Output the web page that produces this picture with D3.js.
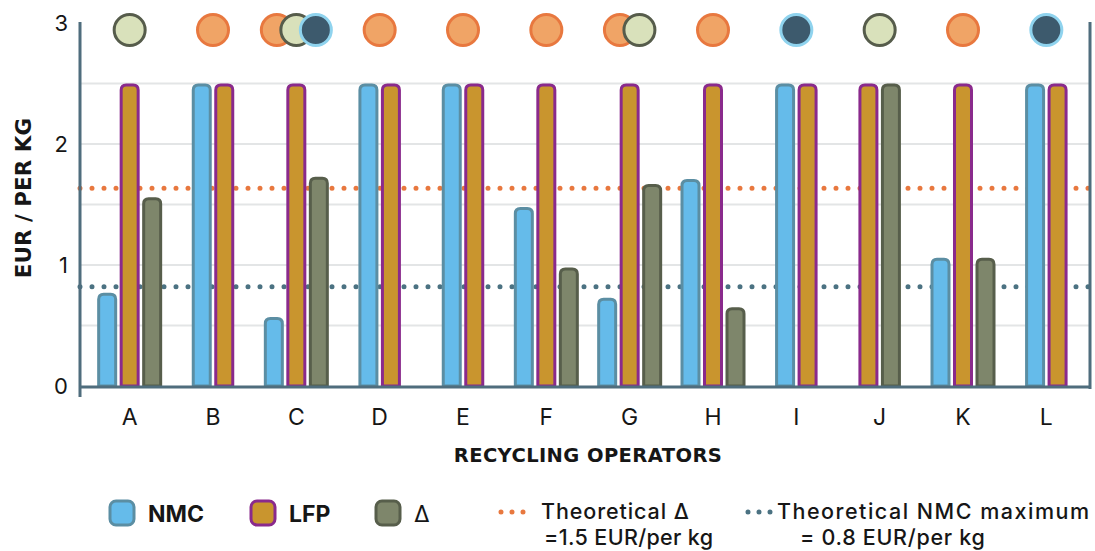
<!DOCTYPE html>
<html>
<head>
<meta charset="utf-8">
<script src="https://cdn.jsdelivr.net/npm/d3@7"></script>
<style>
  html, body { margin: 0; padding: 0; background: #fff; }
  svg { display: block; font-family: Inter, "Noto Sans", sans-serif; }
</style>
</head>
<body>
<svg id="chart" width="1095" height="551"></svg>
<script>
// ---------- data ----------
const categories = ["A","B","C","D","E","F","G","H","I","J","K","L"];
const nmcValues   = [0.77, 2.5, 0.57, 2.5, 2.5, 1.48, 0.73, 1.71, 2.5, 0,   1.06, 2.5];
const lfpValues   = [2.5,  2.5, 2.5,  2.5, 2.5, 2.5,  2.5,  2.5,  2.5, 2.5, 2.5,  2.5];
const deltaValues = [1.56, 0,   1.73, 0,   0,   0.98, 1.67, 0.65, 0,   2.5, 1.06, 0];
// markers shown above each operator (order = drawing order)
const markers = [
  ["green"], ["orange"], ["orange","green","dark"], ["orange"], ["orange"], ["orange"],
  ["orange","green"], ["orange"], ["dark"], ["green"], ["orange"], ["dark"]
];
const yTicks = [0, 1, 2, 3];
const gridValues = [0.5, 1, 1.5, 2, 2.5];
const theoreticalDelta = 1.635;   // drawn position of orange dotted line
const theoreticalNmcMax = 0.82;   // drawn position of blue dotted line
const seriesKeys = ["NMC","LFP","Δ"];
const seriesValues = [nmcValues, lfpValues, deltaValues];

// ---------- styles ----------
const seriesStyle = {
  "NMC": {fill: "#65bbea", stroke: "#5b8ea3"},
  "LFP": {fill: "#c9952e", stroke: "#8a2a8c"},
  "Δ":   {fill: "#7e866b", stroke: "#575e4b"}
};
const markerStyle = {
  orange: {fill: "#f0a466", stroke: "#e8783f"},
  green:  {fill: "#d9e1bb", stroke: "#565c4b"},
  dark:   {fill: "#3d5a6d", stroke: "#8fd3ee"}
};
const axisColor = "#4f6d7d";
const textColor = "#161616";
const boldFont = "'DejaVu Sans', sans-serif";

const svg = d3.select("#chart");

// ---------- scales ----------
const x = d3.scaleBand().domain(categories).range([88, 1088]).padding(0);
const y = d3.scaleLinear().domain([0, 3]).range([386, 23]);
const plotLeft = 80, plotRight = 1090;

// gridlines
svg.append("g").selectAll("line").data(gridValues).join("line")
  .attr("x1", plotLeft).attr("x2", plotRight)
  .attr("y1", d => y(d)).attr("y2", d => y(d))
  .attr("stroke", "#e3e5e6").attr("stroke-width", 2);

// theoretical dotted lines
const refLines = [
  {v: theoreticalDelta, color: "#e8783f"},
  {v: theoreticalNmcMax, color: "#4b7282"}
];
svg.append("g").selectAll("line").data(refLines).join("line")
  .attr("x1", plotLeft).attr("x2", plotRight)
  .attr("y1", d => y(d.v)).attr("y2", d => y(d.v))
  .attr("stroke", d => d.color).attr("stroke-width", 5)
  .attr("stroke-linecap", "round").attr("stroke-dasharray", "0 12");

// ---------- bars ----------
const barStep = 22.5, barW = 17, sw = 3, rad = 5;
function topRoundedPath(x0, y0, w, h, r) {
  r = Math.min(r, h, w / 2);
  return `M${x0},${y0 + h} L${x0},${y0 + r} Q${x0},${y0} ${x0 + r},${y0} L${x0 + w - r},${y0} Q${x0 + w},${y0} ${x0 + w},${y0 + r} L${x0 + w},${y0 + h} Z`;
}
const groups = svg.append("g").selectAll("g").data(categories).join("g")
  .attr("transform", d => `translate(${x(d) + x.bandwidth() / 2},0)`);
groups.each(function(cat, i) {
  const present = seriesKeys.map((k, j) => ({key: k, value: seriesValues[j][i]})).filter(d => d.value > 0);
  const inner = d3.scaleBand().domain(present.map(d => d.key))
    .range([-present.length * barStep / 2, present.length * barStep / 2]);
  d3.select(this).selectAll("path").data(present).join("path")
    .attr("d", d => {
      const cx = inner(d.key) + inner.bandwidth() / 2;
      const top = y(d.value) + sw / 2;
      return topRoundedPath(cx - barW / 2, top, barW, y(0) - top, rad);
    })
    .attr("fill", d => seriesStyle[d.key].fill)
    .attr("stroke", d => seriesStyle[d.key].stroke)
    .attr("stroke-width", sw);
});

// ---------- top markers ----------
const markerStep = 19.5, markerR = 15.5;
const mg = svg.append("g").selectAll("g").data(categories).join("g")
  .attr("transform", d => `translate(${x(d) + x.bandwidth() / 2},30)`);
mg.each(function(cat, i) {
  const list = markers[i];
  d3.select(this).selectAll("circle").data(list).join("circle")
    .attr("cx", (d, k) => (k - (list.length - 1) / 2) * markerStep)
    .attr("cy", 0).attr("r", markerR)
    .attr("fill", d => markerStyle[d].fill)
    .attr("stroke", d => markerStyle[d].stroke)
    .attr("stroke-width", 3);
});

// ---------- axes ----------
svg.append("line").attr("x1", plotLeft).attr("x2", plotLeft).attr("y1", 22).attr("y2", 397)
  .attr("stroke", axisColor).attr("stroke-width", 3);
svg.append("line").attr("x1", plotRight).attr("x2", plotRight).attr("y1", 22).attr("y2", 389)
  .attr("stroke", axisColor).attr("stroke-width", 3);
svg.append("line").attr("x1", plotLeft).attr("x2", plotRight).attr("y1", y(0) + 1).attr("y2", y(0) + 1)
  .attr("stroke", axisColor).attr("stroke-width", 3);

const yAxis = svg.append("g").attr("transform", `translate(${plotLeft},0)`)
  .call(d3.axisLeft(y).tickValues(yTicks).tickFormat(d3.format("d")).tickSize(0).tickPadding(12));
yAxis.select(".domain").remove();
yAxis.selectAll("text").attr("font-size", 22).attr("fill", textColor)
  .attr("font-family", "Inter, sans-serif");

const xAxis = svg.append("g").attr("transform", `translate(0,${y(0)})`)
  .call(d3.axisBottom(x).tickSize(0).tickPadding(23));
xAxis.select(".domain").remove();
xAxis.selectAll("text").attr("font-size", 23).attr("fill", textColor)
  .attr("font-family", "Inter, sans-serif");

// axis titles
svg.append("text").attr("transform", "translate(31,198) rotate(-90)")
  .attr("text-anchor", "middle").attr("font-size", 21.5).attr("font-weight", 700)
  .attr("font-family", boldFont).attr("fill", textColor).text("EUR / PER KG");
svg.append("text").attr("x", 588).attr("y", 462)
  .attr("text-anchor", "middle").attr("font-size", 19.5).attr("font-weight", 700)
  .attr("letter-spacing", 0.4)
  .attr("font-family", boldFont).attr("fill", textColor).text("RECYCLING OPERATORS");

// ---------- legend ----------
const legendItems = [
  {key: "NMC", x: 110, weight: 700},
  {key: "LFP", x: 251, weight: 700},
  {key: "Δ",   x: 376, weight: 400}
];
const lg = svg.append("g").selectAll("g").data(legendItems).join("g")
  .attr("transform", d => `translate(${d.x},501)`);
lg.append("rect").attr("width", 24).attr("height", 24).attr("rx", 6)
  .attr("fill", d => seriesStyle[d.key].fill)
  .attr("stroke", d => seriesStyle[d.key].stroke).attr("stroke-width", 3);
lg.append("text").attr("x", 38).attr("y", 21)
  .attr("font-size", 23).attr("font-weight", d => d.weight).attr("fill", textColor).text(d => d.key);

const refLegend = [
  {x: 498, color: "#e8783f", l1: "Theoretical Δ", l2: "=1.5 EUR/per kg", dx1: 43, dx2: 46, ls1: 0.9, ls2: 0.35},
  {x: 745, color: "#4b7282", l1: "Theoretical NMC maximum", l2: "= 0.8 EUR/per kg", dx1: 32, dx2: 55, ls1: 1.5, ls2: 0.7}
];
const rl = svg.append("g").selectAll("g").data(refLegend).join("g")
  .attr("transform", d => `translate(${d.x},512)`);
rl.append("line").attr("x1", 3).attr("x2", 27).attr("y1", 0).attr("y2", 0)
  .attr("stroke", d => d.color).attr("stroke-width", 5)
  .attr("stroke-linecap", "round").attr("stroke-dasharray", "0 11");
rl.append("text").attr("x", d => d.dx1).attr("y", 7).attr("font-size", 21.5).attr("font-weight", 500)
  .attr("letter-spacing", d => d.ls1)
  .attr("fill", textColor).text(d => d.l1);
rl.append("text").attr("x", d => d.dx2).attr("y", 33).attr("font-size", 21.5).attr("font-weight", 500)
  .attr("letter-spacing", d => d.ls2)
  .attr("fill", textColor).text(d => d.l2);
</script>
</body>
</html>
